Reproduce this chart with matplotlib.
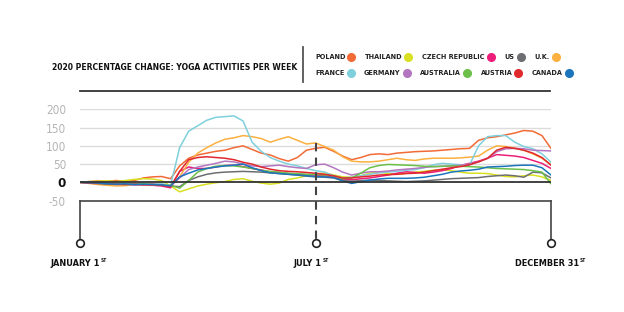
import matplotlib
matplotlib.use('Agg')
import matplotlib.pyplot as plt
import numpy as np

FONT = ['DejaVu Sans']
plt.rcParams['font.family'] = FONT
plt.rcParams['font.stretch'] = 'condensed'

weeks = list(range(53))

countries = ['POLAND', 'THAILAND', 'CZECH REPUBLIC', 'US', 'U.K.',
             'FRANCE', 'GERMANY', 'AUSTRALIA', 'AUSTRIA', 'CANADA']
colors = ['#f26a36', '#d9e021', '#ec1e79', '#6d6e71', '#fbb040',
          '#7fd0dc', '#b476c0', '#6cc04a', '#e0282d', '#1b75bc']

poland = [0, 2, 4, 3, 5, 3, 5, 12, 15, 16, 10, 45, 66, 75, 80, 85, 88, 95, 100, 90,
          80, 75, 65, 58, 68, 88, 93, 96, 85, 72, 62, 68, 76, 78, 76, 80, 82, 84, 85, 86,
          88, 90, 92, 93, 115, 122, 125, 130, 135, 142, 140, 128, 93]
thailand = [0, 2, 3, 4, 2, 5, 8, 10, 9, 5, -10, -26, -18, -10, -5, -1, 2, 8, 10, 3,
            -2, -5, -2, 8, 12, 18, 22, 26, 20, 15, 14, 18, 25, 28, 24, 22, 25, 28, 30, 33,
            34, 32, 28, 25, 25, 24, 20, 16, 15, 18, 20, 15, 5]
czech = [0, -2, -4, -5, -6, -5, -4, -6, -8, -10, -15, 30, 42, 38, 38, 42, 46, 47, 43, 38,
         34, 28, 26, 24, 22, 21, 20, 18, 15, 8, 7, 10, 12, 16, 20, 25, 29, 27, 25, 28,
         32, 38, 46, 52, 58, 66, 76, 74, 72, 68, 60, 52, 38]
us = [0, -1, -2, -3, -4, -5, -5, -6, -5, -6, -10, -12, 5, 15, 22, 26, 28, 29, 30, 29,
      28, 26, 24, 22, 20, 17, 15, 14, 12, 5, 3, 5, 6, 5, 4, 3, 2, 3, 4, 6,
      8, 10, 11, 12, 13, 16, 18, 20, 18, 14, 28, 26, 12]
uk = [0, -3, -6, -8, -10, -9, -6, -5, -4, -6, -10, 15, 55, 80, 95, 108, 118, 122, 128, 125,
      120, 110, 118, 125, 115, 105, 108, 98, 88, 70, 58, 56, 56, 58, 62, 66, 62, 60, 64, 66,
      66, 66, 67, 69, 72, 88, 100, 98, 94, 88, 78, 66, 48]
france = [0, 2, 0, -2, -3, -2, -5, -6, -5, -4, -8, 95, 140, 155, 170, 178, 180, 182, 168, 110,
          85, 68, 58, 50, 45, 38, 32, 28, 18, 12, 14, 18, 22, 26, 28, 30, 33, 35, 40, 48,
          52, 50, 48, 47, 100, 125, 128, 128, 110, 98, 92, 78, 55]
germany = [0, -2, -3, -4, -6, -5, -8, -6, -5, -7, -10, 12, 35, 42, 47, 52, 58, 56, 50, 45,
           43, 45, 47, 43, 40, 38, 48, 50, 40, 28, 20, 25, 29, 29, 31, 34, 36, 38, 41, 43,
           44, 45, 47, 50, 56, 66, 84, 92, 93, 92, 88, 87, 86]
australia = [0, -1, -3, -5, -4, -6, -5, -4, -6, -8, -8, -16, 5, 28, 38, 44, 46, 45, 42, 38,
             33, 30, 28, 25, 24, 22, 22, 20, 18, 10, 12, 25, 40, 46, 49, 48, 47, 46, 44, 43,
             44, 45, 44, 43, 42, 40, 38, 37, 36, 35, 32, 28, -4]
austria = [0, -2, -3, -4, -5, -6, -5, -7, -6, -8, -12, 30, 62, 68, 70, 68, 66, 62, 55, 50,
           42, 36, 32, 30, 29, 27, 25, 22, 18, 12, 12, 15, 17, 20, 21, 22, 24, 25, 28, 32,
           36, 40, 43, 48, 56, 66, 88, 96, 93, 88, 80, 68, 47]
canada = [0, -1, -2, -4, -5, -4, -6, -5, -6, -7, -10, 15, 25, 34, 38, 42, 45, 47, 50, 40,
          32, 26, 24, 22, 20, 18, 16, 15, 13, 4, -3, 2, 6, 9, 11, 11, 11, 12, 14, 18,
          22, 28, 31, 33, 36, 42, 43, 44, 46, 47, 47, 40, 20]

series = [poland, thailand, czech, us, uk, france, germany, australia, austria, canada]

y_ticks = [-50, 0, 50, 100, 150, 200]
grid_values = [50, 100, 150, 200]

W, H = 624, 312
fig = plt.figure(figsize=(W / 100, H / 100), dpi=100)
ax = fig.add_axes([80 / W, 1 - 200.6 / H, 471 / W, 91.3 / H])
ax.set_xlim(0, 52)
ax.set_ylim(-50, 200)
for s in ax.spines.values():
    s.set_visible(False)

for g in grid_values:
    ax.axhline(g, color='#dcdcdc', lw=1.0, zorder=1)

for vals, c in zip(series, colors):
    ax.plot(weeks, vals, color=c, lw=1.1, zorder=3, solid_joinstyle='round')

ax.axhline(0, color='#333333', lw=1.3, zorder=4)

ax.set_xticks([])
ax.set_yticks(y_ticks)
ax.set_yticklabels([str(v) for v in y_ticks])
ax.tick_params(axis='y', length=0, pad=10, labelsize=8.5, labelcolor='#b5b5b5')
for lab in ax.get_yticklabels():
    if lab.get_text() == '0':
        lab.set_color('#111111')
        lab.set_fontweight('bold')
        lab.set_fontsize(9.5)

# bracket below the chart
circle_y = -166
ax.plot([0, 52], [-50, -50], color='#444444', lw=1.2, clip_on=False, zorder=2)
ax.plot([0, 0], [-50, circle_y], color='#444444', lw=1.2, clip_on=False, zorder=2)
ax.plot([52, 52], [-50, circle_y], color='#444444', lw=1.2, clip_on=False, zorder=2)
ax.plot([26, 26], [108, circle_y], color='#444444', lw=1.5, ls=(0, (4, 3)),
        clip_on=False, zorder=5)
ax.plot([0, 26, 52], [circle_y] * 3, 'o', ms=5.5, mfc='white', mec='#222222',
        mew=1.2, clip_on=False, zorder=6)

date_labels = [('JANUARY 1', 100), ('JULY 1', 322), ('DECEMBER 31', 579)]
for text, right in date_labels:
    fig.text(right / W, 1 - 264 / H, text, ha='right', va='center', fontsize=6.6,
             fontweight='bold', color='#111111')
    fig.text(right / W + 0.001, 1 - 260 / H, 'ST', ha='left', va='center',
             fontsize=3.5, fontweight='bold', color='#111111')

# title and legend
fig.text(52 / W, 1 - 67 / H, '2020 PERCENTAGE CHANGE: YOGA ACTIVITIES PER WEEK',
         ha='left', va='center', fontsize=6.1, fontweight='bold', color='#111111')
fig.add_artist(plt.Line2D([302.7 / W, 302.7 / W], [1 - 46.7 / H, 1 - 81.7 / H],
                          color='#555555', lw=1.3))
fig.add_artist(plt.Line2D([80 / W, 550 / W], [1 - 91 / H, 1 - 91 / H],
                          color='#333333', lw=1.3))

legend_text_x = [315, 365, 422, 504, 534, 315, 364, 420, 481, 532]
legend_dot_x = [351, 408, 491, 521, 556, 351, 407, 467, 518, 569]
legend_y = [56.7] * 5 + [72.7] * 5
for name, c, tx, dx, ly in zip(countries, colors, legend_text_x, legend_dot_x, legend_y):
    fig.text(tx / W, 1 - ly / H, name, ha='left', va='center', fontsize=5.2,
             fontweight='bold', color='#222222')
    fig.add_artist(plt.Line2D([dx / W], [1 - ly / H], marker='o', ms=5.5,
                              color=c, mec=c, ls=''))

fig.savefig('out.png', dpi=100)
